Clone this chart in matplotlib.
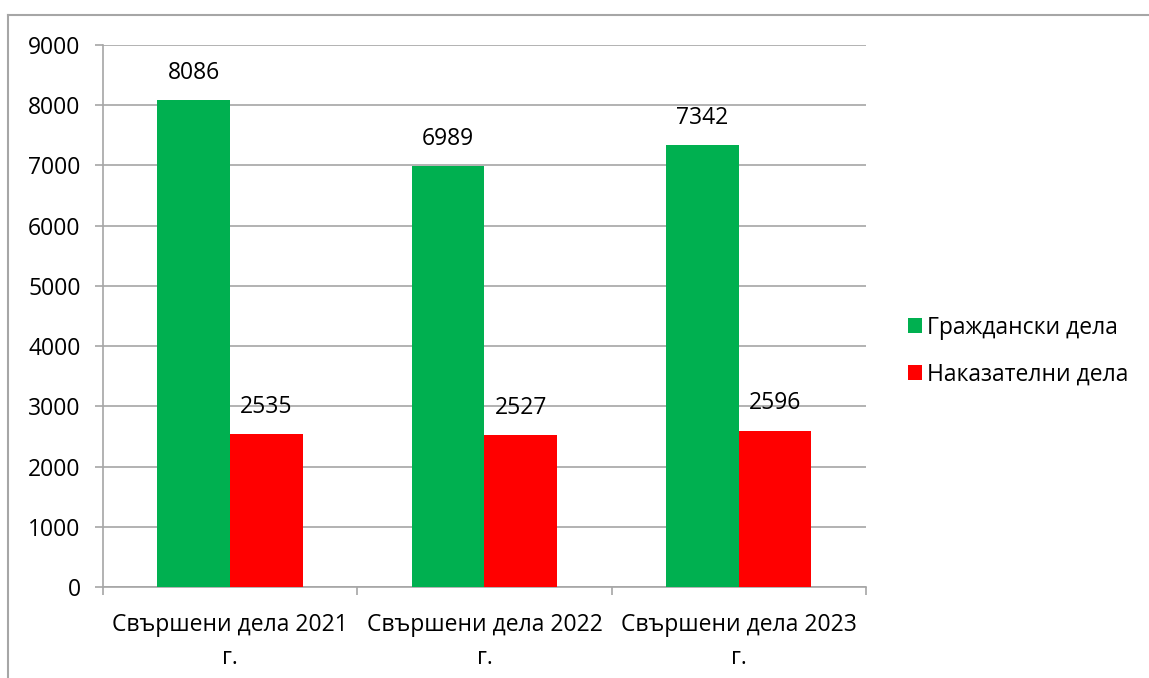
import numpy as np
import matplotlib.pyplot as plt
from matplotlib.lines import Line2D

plt.rcParams['font.family'] = ['Open Sans', 'DejaVu Sans']

categories = ['Свършени дела 2021\nг.', 'Свършени дела 2022\nг.', 'Свършени дела 2023\nг.']
series_names = ['Граждански дела', 'Наказателни дела']
civil = [8086, 6989, 7342]
criminal = [2535, 2527, 2596]
colors = ['#00b050', '#ff0000']

fs = 16.5

fig = plt.figure(figsize=(11.49, 6.78), dpi=100)
ax = fig.add_axes([0.0896, 0.1342, 0.6641, 0.7994])

# chart frame (only left and top edges visible)
fig.add_artist(Line2D([0.007, 0.007], [0, 0.978], transform=fig.transFigure, color='#a6a6a6', lw=1.5))
fig.add_artist(Line2D([0.007, 1.0], [0.978, 0.978], transform=fig.transFigure, color='#a6a6a6', lw=1.5))

x = np.arange(len(categories))
w = 1 / 3.5
b1 = ax.bar(x - w / 2, civil, w, color=colors[0], label=series_names[0], zorder=3)
b2 = ax.bar(x + w / 2, criminal, w, color=colors[1], label=series_names[1], zorder=3)

for bars in (b1, b2):
    for r in bars:
        ax.annotate(str(int(r.get_height())), (r.get_x() + r.get_width() / 2, r.get_height()),
                    xytext=(0, 11), textcoords='offset points', ha='center', va='bottom', fontsize=fs)

ax.set_xlim(-0.5, 2.5)
ax.set_ylim(0, 9000)
ax.set_yticks(range(0, 9001, 1000))
ax.grid(axis='y', color='#a6a6a6', lw=1.2, zorder=0)

ax.set_xticks([-0.5, 0.5, 1.5, 2.5])
ax.set_xticklabels([])
ax.set_xticks(x, minor=True)
ax.set_xticklabels(categories, minor=True, fontsize=fs, linespacing=1.45)
ax.tick_params(axis='x', which='minor', length=0, pad=19)
ax.tick_params(axis='x', which='major', length=6, color='#a6a6a6', width=1.2)
ax.tick_params(axis='y', length=6, color='#a6a6a6', width=1.2, labelsize=fs, pad=10)

for s in ['top', 'right']:
    ax.spines[s].set_visible(False)
for s in ['left', 'bottom']:
    ax.spines[s].set_color('#a6a6a6')
    ax.spines[s].set_linewidth(1.2)

leg = ax.legend(loc='center left', bbox_to_anchor=(1.028, 0.435), frameon=False, fontsize=fs,
                handlelength=0.6, handleheight=0.6, handletextpad=0.25, labelspacing=1.0)

fig.savefig('out.png', dpi=100)
